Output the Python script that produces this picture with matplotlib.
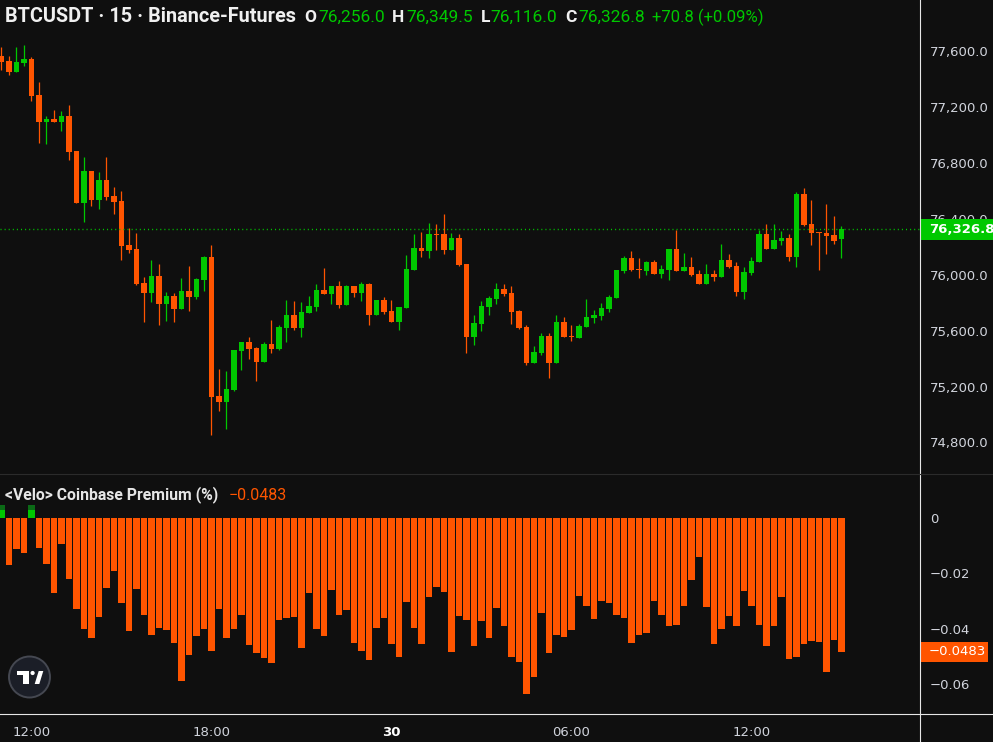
import numpy as np
import matplotlib.pyplot as plt
from matplotlib.patches import Rectangle, Circle, Polygon

# 15m bars, index 0 = 12:00 on the 29th
bar_idx = list(range(-4, 109))

opens = [77564, 77528, 77452, 77516, 77543, 77285, 77094, 77114, 77094, 77135,
         76885, 76515, 76742, 76534, 76677, 76563, 76527, 76209, 76187, 75941,
         75871, 75991, 75793, 75848, 75757, 75884, 75843, 75962, 76127, 75133,
         75092, 75175, 75454, 75519, 75476, 75376, 75505, 75469, 75619, 75712,
         75619, 75726, 75769, 75891, 75862, 75919, 75783, 75919, 75869, 75934,
         75712, 75819, 75740, 75662, 75762, 76034, 76191, 76170, 76291, 76291,
         76177, 76263, 76077, 75554, 75648, 75769, 75826, 75898, 75869, 75740,
         75626, 75369, 75440, 75562, 75369, 75662, 75562, 75547, 75626, 75690,
         75705, 75755, 75834, 76027, 76120, 76041, 76027, 76091, 76005, 76034,
         76184, 76027, 76055, 76005, 75934, 76005, 75984, 76105, 76062, 75877,
         76012, 76091, 76291, 76184, 76241, 76263, 76127, 76577, 76363, 76306,
         76298, 76284, 76256.0]
highs = [77631, 77564, 77631, 77643, 77555, 77380, 77135, 77178, 77171, 77214,
         76885, 76842, 76742, 76735, 76842, 76627, 76599, 76332, 76298, 75984,
         76105, 76077, 75876, 75869, 75977, 76062, 75977, 76134, 76212, 75326,
         75311, 75461, 75519, 75554, 75483, 75519, 75676, 75640, 75819, 75812,
         75805, 75848, 75934, 76048, 75919, 75955, 75926, 75919, 75948, 75941,
         75819, 75841, 75819, 75769, 76141, 76291, 76305, 76370, 76363, 76434,
         76298, 76291, 76077, 75712, 75812, 75848, 75941, 75934, 75919, 75748,
         75640, 75490, 75583, 75583, 75712, 75697, 75640, 75648, 75826, 75748,
         75798, 75855, 76034, 76134, 76170, 76120, 76098, 76105, 76070, 76184,
         76320, 76155, 76127, 76034, 76077, 76034, 76220, 76148, 76091, 76055,
         76127, 76320, 76363, 76363, 76313, 76291, 76592, 76620, 76534, 76306,
         76506, 76420, 76349.5]
lows = [77464, 77428, 77452, 77495, 77245, 76944, 76937, 77094, 77030, 76820,
        76515, 76379, 76494, 76472, 76534, 76436, 76105, 76153, 75926, 75664,
        75805, 75643, 75671, 75664, 75757, 75743, 75829, 75886, 74854, 75027,
        74897, 75168, 75318, 75397, 75240, 75376, 75440, 75462, 75519, 75605,
        75554, 75726, 75740, 75862, 75791, 75762, 75783, 75841, 75812, 75640,
        75712, 75719, 75662, 75605, 75762, 76034, 76127, 76120, 76177, 76148,
        76177, 76062, 75440, 75497, 75597, 75712, 75791, 75848, 75647, 75612,
        75354, 75369, 75426, 75261, 75369, 75554, 75526, 75547, 75626, 75655,
        75676, 75733, 75834, 76012, 76027, 75977, 75998, 76005, 75977, 75962,
        76027, 76027, 75991, 75934, 75934, 75955, 75984, 76048, 75848, 75826,
        75998, 76091, 76184, 76184, 76213, 76098, 76055, 76349, 76213, 76034,
        76148, 76220, 76116.0]
closes = [77523, 77452, 77521, 77543, 77280, 77094, 77114, 77094, 77135, 76880,
          76515, 76742, 76534, 76677, 76558, 76522, 76208, 76180, 75933, 75871,
          75991, 75793, 75848, 75757, 75884, 75843, 75970, 76127, 75127, 75092,
          75183, 75461, 75519, 75469, 75376, 75505, 75469, 75626, 75712, 75619,
          75733, 75776, 75891, 75862, 75919, 75783, 75919, 75869, 75934, 75712,
          75819, 75733, 75662, 75769, 76041, 76191, 76170, 76291, 76284, 76177,
          76263, 76070, 75554, 75655, 75776, 75833, 75898, 75862, 75733, 75619,
          75369, 75447, 75562, 75369, 75662, 75554, 75555, 75633, 75698, 75712,
          75762, 75841, 76034, 76120, 76034, 76034, 76091, 76005, 76041, 76184,
          76027, 76055, 75998, 75934, 76005, 75984, 76105, 76055, 75877, 76020,
          76098, 76291, 76184, 76248, 76263, 76127, 76577, 76356, 76298, 76299,
          76277, 76241, 76326.8]

premium = [0.0047, -0.0170, -0.0112, -0.0127, 0.0047, -0.0108, -0.0166, -0.0271, -0.0094, -0.0221,
           -0.0329, -0.0401, -0.0434, -0.0358, -0.0253, -0.0192, -0.0307, -0.0409, -0.0257, -0.0351,
           -0.0423, -0.0398, -0.0405, -0.0452, -0.0590, -0.0495, -0.0427, -0.0401, -0.0481, -0.0329,
           -0.0434, -0.0401, -0.0351, -0.0459, -0.0488, -0.0506, -0.0524, -0.0369, -0.0362, -0.0358,
           -0.0470, -0.0271, -0.0401, -0.0427, -0.0260, -0.0351, -0.0333, -0.0452, -0.0481, -0.0514,
           -0.0398, -0.0362, -0.0456, -0.0503, -0.0304, -0.0398, -0.0456, -0.0286, -0.0250, -0.0268,
           -0.0485, -0.0354, -0.0369, -0.0463, -0.0373, -0.0434, -0.0325, -0.0391, -0.0503, -0.0521,
           -0.0637, -0.0575, -0.0344, -0.0488, -0.0423, -0.0430, -0.0405, -0.0282, -0.0318, -0.0365,
           -0.0300, -0.0307, -0.0351, -0.0362, -0.0452, -0.0423, -0.0416, -0.0300, -0.0351, -0.0391,
           -0.0387, -0.0318, -0.0224, -0.0141, -0.0322, -0.0456, -0.0401, -0.0354, -0.0391, -0.0264,
           -0.0318, -0.0387, -0.0463, -0.0391, -0.0286, -0.0510, -0.0503, -0.0456, -0.0445, -0.0448,
           -0.0557, -0.0441, -0.0483]
premium_pos_inner = 0.0029  # brighter part of the positive columns

price_ticks = [74800, 75200, 75600, 76000, 76400, 76800, 77200, 77600]
premium_ticks = [0, -0.02, -0.04, -0.06]
premium_tick_labels = ['0', '\u22120.02', '\u22120.04', '\u22120.06']
time_ticks = [0, 24, 48, 72, 96]
time_labels = ['12:00', '18:00', '30', '06:00', '12:00']

W, H = 993, 742
BG = '#0f0f0f'
UP = '#00c800'
DOWN = '#ff5500'
TXT = '#d1d4dc'

fig = plt.figure(figsize=(W / 100, H / 100), dpi=100, facecolor=BG)


def px_axes(x0, y0, x1, y1):
    # pixel box, origin top-left
    a = fig.add_axes([x0 / W, 1 - y1 / H, (x1 - x0) / W, (y1 - y0) / H])
    a.set_facecolor(BG)
    for s in a.spines.values():
        s.set_visible(False)
    return a


ax = px_axes(0, 0, 920, 474)
ax2 = px_axes(0, 474, 920, 713)

x = np.array(bar_idx)
o, h, l, c = (np.array(v, dtype=float) for v in (opens, highs, lows, closes))
cols = np.where(c >= o, UP, DOWN)

# candles
ax.vlines(x, l, h, colors=cols, lw=0.9)
ax.bar(x, np.maximum(np.abs(c - o), 7), bottom=np.minimum(o, c), width=0.76, color=cols, lw=0)
ax.axhline(closes[-1], color=UP, lw=1.0, ls=(0, (0.75, 2.2)))
ax.set_xlim(-4.2, 118.47)
ax.set_ylim(74574.7, 77964.7)
ax.yaxis.tick_right()
ax.set_yticks(price_ticks)
ax.set_yticklabels([f'{p:,.1f}' for p in price_ticks])
ax.set_xticks([])
ax.tick_params(axis='y', length=0, pad=7, labelsize=9.5, labelcolor=TXT)

# last price label
ax.add_patch(Rectangle((1.0, closes[-1] - 75), 73 / 920, 150, transform=ax.get_yaxis_transform(),
                       clip_on=False, color=UP, lw=0, zorder=5))
ax.text(1.0 + 9 / 920, closes[-1], f'{closes[-1]:,.1f}', transform=ax.get_yaxis_transform(),
        color='white', fontsize=9.5, fontweight='bold', va='center', ha='left', zorder=6, clip_on=False)

# premium histogram
prem = np.array(premium)
hcols = np.where(prem >= 0, '#0b6a16', DOWN)
ax2.bar(x, prem, width=0.86, color=hcols, lw=0)
pos = prem > 0
ax2.bar(x[pos], np.full(pos.sum(), premium_pos_inner), width=0.86, color=UP, lw=0)
ax2.set_xlim(-4.2, 118.47)
ax2.set_ylim(-0.0705, 0.0159)
ax2.yaxis.tick_right()
ax2.set_yticks(premium_ticks)
ax2.set_yticklabels(premium_tick_labels)
ax2.set_xticks(time_ticks)
ax2.set_xticklabels(time_labels)
ax2.tick_params(axis='y', length=0, pad=7, labelsize=9.5, labelcolor=TXT)
ax2.tick_params(axis='x', length=0, pad=9, labelsize=9.5, labelcolor=TXT)
for t in ax2.get_xticklabels():
    if t.get_text() == '30':
        t.set_fontweight('bold')
        t.set_color('white')

ax2.add_patch(Rectangle((1.0, premium[-1] - 0.0036), 68 / 920, 0.0072, transform=ax2.get_yaxis_transform(),
                        clip_on=False, color=DOWN, lw=0, zorder=5))
ax2.text(1.0 + 9 / 920, premium[-1], f'{premium[-1]:.4f}'.replace('-', '\u2212'),
         transform=ax2.get_yaxis_transform(), color='white', fontsize=9.5, va='center', ha='left',
         zorder=6, clip_on=False)

# overlay in pixel coords for frame lines, header and logo
ov = fig.add_axes([0, 0, 1, 1])
ov.set_xlim(0, W)
ov.set_ylim(H, 0)
ov.axis('off')
ov.patch.set_alpha(0)
ov.plot([920, 920], [0, H], color='#e6e6e6', lw=0.8)
ov.plot([0, W], [713.5, 713.5], color='#e6e6e6', lw=0.8)
ov.plot([0, W], [474, 474], color='#2b2b2b', lw=0.8)

hdr = dict(va='center', ha='left', fontsize=12.5, family='Roboto')
ov.text(5, 17, 'BTCUSDT \u00b7 15 \u00b7 Binance-Futures', color='#f0f0f0', fontweight='bold',
        **dict(hdr, fontsize=14.3))
for lx, letter, vx, val in [(304, 'O', 318, opens[-1]), (392, 'H', 406, highs[-1]),
                            (481, 'L', 490, lows[-1]), (565, 'C', 578, closes[-1])]:
    ov.text(lx, 17, letter, color='#f0f0f0', fontweight='bold', **hdr)
    ov.text(vx, 17, f'{val:,.1f}', color=UP, **hdr)
chg = closes[-1] - opens[-1]
ov.text(652, 17, f'+{chg:.1f} (+{chg / opens[-1] * 100:.2f}%)', color=UP, **dict(hdr, fontsize=12))

ov.text(5, 495, '<Velo> Coinbase Premium (%)', color='#e6e6e6', va='center', ha='left',
        fontsize=11.3, family='Roboto', fontweight='bold')
ov.text(229, 495, f'{premium[-1]:.4f}'.replace('-', '\u2212'), color=DOWN, va='center', ha='left',
        fontsize=11.5, family='Roboto')

# TradingView badge
ov.add_patch(Circle((29.5, 677), 20.5, facecolor='#1b1e27', edgecolor='#454851', lw=1.4))
ov.add_patch(Polygon([(16.7, 671), (29.3, 671), (29.3, 684), (22.7, 684), (22.7, 675.3), (16.7, 675.3)],
                     closed=True, color='white', lw=0))
ov.add_patch(Circle((32.6, 673), 2.1, color='white', lw=0))
ov.add_patch(Polygon([(34.7, 684), (39.3, 684), (43.3, 671), (38.7, 671)], closed=True, color='white', lw=0))

fig.savefig('out.png', dpi=100, facecolor=BG)
